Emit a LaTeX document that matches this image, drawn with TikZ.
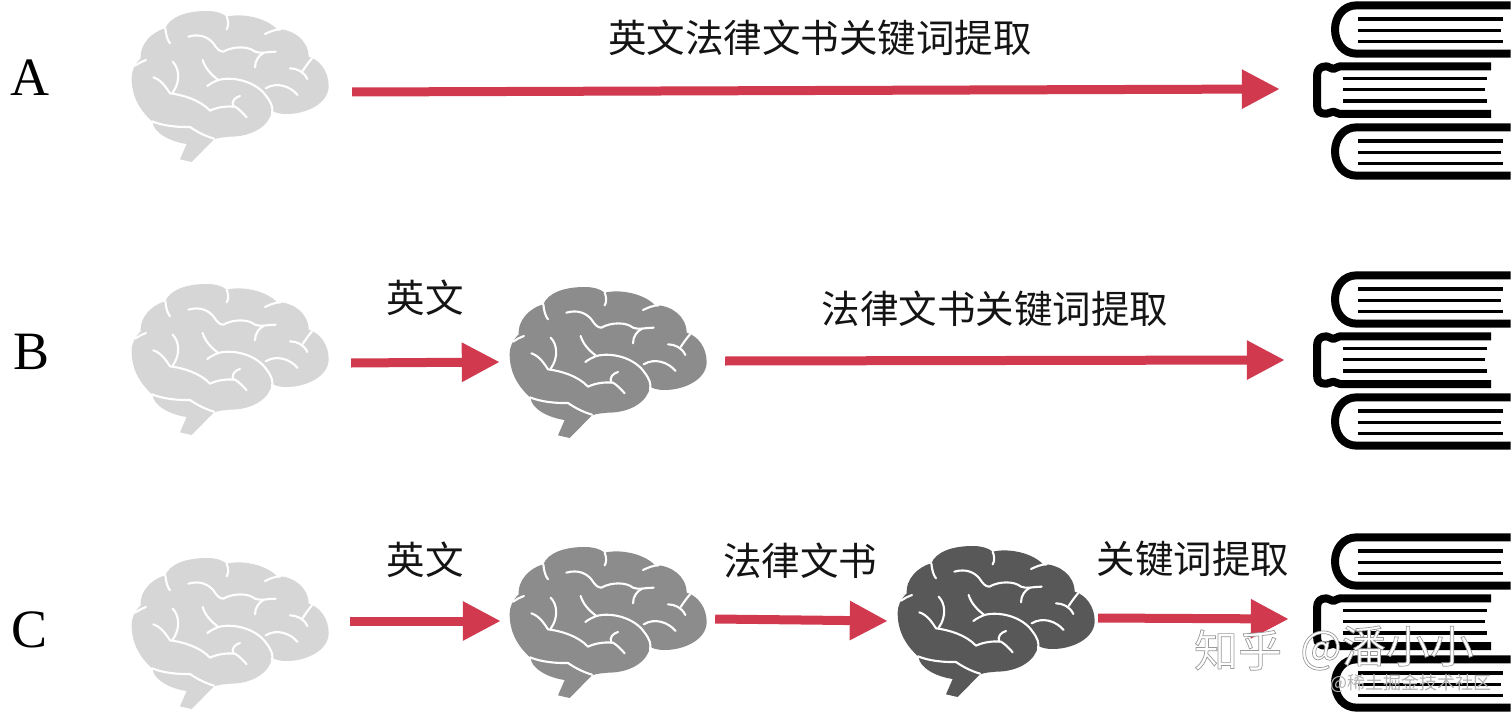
\documentclass[tikz,border=0pt]{standalone}
\usepackage{fontspec}
\setmainfont{Liberation Serif}
\newfontfamily\cjk{Noto Sans CJK SC}
\usetikzlibrary{arrows.meta}
\definecolor{brainlight}{HTML}{D6D6D6}
\definecolor{brainmid}{HTML}{8C8C8C}
\definecolor{braindark}{HTML}{585858}
\definecolor{arrowred}{HTML}{D0394E}
\tikzset{
  redarrow/.style={draw=arrowred,line width=9pt,-{Triangle[length=38pt,width=37pt,color=arrowred]}},
  rowlabel/.style={font=\fontsize{54}{54}\selectfont,inner sep=0pt},
  cnlabel/.style={font=\cjk\fontsize{38.5}{38.5}\selectfont,inner sep=0pt,text=black!92},
  boxanchor/.style={minimum width=200pt,minimum height=155pt,inner sep=0pt,draw=none},
  bookanchor/.style={minimum width=182pt,minimum height=180pt,inner sep=0pt,draw=none},
  sulcus/.style={draw=white,line width=2.1pt,line cap=round,line join=round},
  cover/.style={draw=black,line width=8pt,line join=round},
  leaf/.style={draw=black,line width=3.3pt},
  pics/brain/.style={code={
    \begin{scope}[scale=1/3]
    \fill[#1] (35,235) .. controls (35,210) and (45,192) .. (62,175)
      .. controls (58,135) and (95,95) .. (136,85)
      .. controls (150,50) and (200,33) .. (260,33)
      .. controls (285,33) and (305,38) .. (320,50)
      .. controls (370,38) and (440,55) .. (470,87)
      .. controls (520,88) and (565,120) .. (566,170)
      .. controls (600,180) and (626,215) .. (626,258)
      .. controls (626,310) and (560,342) .. (500,342)
      .. controls (480,342) and (465,338) .. (456,332)
      .. controls (450,375) and (400,410) .. (330,410)
      .. controls (315,412) and (298,412) .. (282,418)
      -- (215,486) -- (180,478) -- (200,432)
      .. controls (150,425) and (100,398) .. (98,366)
      .. controls (70,340) and (35,300) .. (35,235) -- cycle;
    \draw[sulcus] (136,85) .. controls (138,105) and (142,120) .. (150,130);
    \draw[sulcus] (320,50) .. controls (326,65) and (326,78) .. (320,88);
    \draw[sulcus] (435,102) .. controls (450,95) and (465,88) .. (482,88);
    \draw[sulcus] (205,110) .. controls (240,100) and (265,112) .. (280,130)
      .. controls (290,145) and (298,155) .. (310,155)
      .. controls (340,138) and (385,138) .. (405,155)
      .. controls (420,162) and (445,155) .. (467,155);
    \draw[sulcus] (405,202) .. controls (405,180) and (418,165) .. (432,158);
    \draw[sulcus] (45,197) .. controls (55,190) and (65,185) .. (78,180);
    \draw[sulcus] (158,185) .. controls (178,205) and (182,245) .. (158,278);
    \draw[sulcus] (100,232) .. controls (125,240) and (140,265) .. (150,280)
      .. controls (190,285) and (240,300) .. (270,332)
      .. controls (295,320) and (325,318) .. (345,320)
      .. controls (358,328) and (370,340) .. (380,352);
    \draw[sulcus] (360,288) .. controls (345,292) and (333,305) .. (340,320);
    \draw[sulcus] (248,180) .. controls (255,205) and (275,225) .. (295,240)
      .. controls (340,228) and (410,245) .. (440,290)
      .. controls (455,310) and (460,325) .. (456,340);
    \draw[sulcus] (262,258) .. controls (272,250) and (285,244) .. (295,240);
    \draw[sulcus] (437,265) .. controls (470,245) and (510,258) .. (533,285);
    \draw[sulcus] (510,205) .. controls (530,205) and (552,215) .. (562,237);
    \draw[sulcus] (576,175) .. controls (565,188) and (555,202) .. (548,213);
    \draw[sulcus] (96,364) .. controls (130,378) and (175,382) .. (210,381)
      .. controls (230,395) and (255,408) .. (282,416);
    \end{scope}
  }},
  pics/books/.style={code={
    \begin{scope}[scale=1/3]
    \draw[cover] (632,16) -- (170,16) .. controls (130,16) and (105,50) .. (105,88)
      .. controls (105,128) and (130,161) .. (170,161) -- (632,161);
    \draw[leaf] (175,57) -- (610,57);
    \draw[leaf] (175,91) -- (603,91);
    \draw[leaf] (175,125) -- (610,125);
    \draw[cover] (573,199) -- (120,199) .. controls (112,199) and (110,205) .. (100,207)
      .. controls (92,207) and (88,199) .. (80,199)
      .. controls (60,199) and (51,208) .. (51,228) -- (51,315)
      .. controls (51,335) and (60,342) .. (80,341)
      .. controls (88,341) and (92,335) .. (100,335)
      .. controls (110,336) and (112,342) .. (120,342) -- (573,342);
    \draw[leaf] (130,236) -- (562,236);
    \draw[leaf] (130,269) -- (555,269);
    \draw[leaf] (130,303) -- (562,303);
    \draw[cover] (632,382) -- (170,382) .. controls (130,382) and (105,416) .. (105,454)
      .. controls (105,494) and (130,527) .. (170,527) -- (632,527);
    \draw[leaf] (175,423) -- (610,423);
    \draw[leaf] (175,457) -- (603,457);
    \draw[leaf] (175,491) -- (610,491);
    \end{scope}
  }}
}
\begin{document}
\begin{tikzpicture}[x=1pt,y=-1pt]
\useasboundingbox (0,0) rectangle (1512,714);
\fill[white] (0,0) rectangle (1512,714);

% brains
\pic at (120,0) {brain=brainlight};
\pic at (120,273) {brain=brainlight};
\pic at (120,547) {brain=brainlight};
\pic at (498,276) {brain=brainmid};
\pic at (498,536) {brain=brainmid};
\pic at (886,535) {brain=braindark};
\node[boxanchor] (brainA) at (230,87) {};
\node[boxanchor] (brainB) at (230,360) {};
\node[boxanchor] (brainC) at (230,634) {};
\node[boxanchor] (brainBm) at (608,363) {};
\node[boxanchor] (brainCm) at (608,623) {};
\node[boxanchor] (brainCd) at (995,622) {};

% books
\pic at (1300,0) {books};
\pic at (1300,270) {books};
\pic at (1300,532) {books};
\node[bookanchor] (booksA) at (1421,90) {};
\node[bookanchor] (booksB) at (1421,360) {};
\node[bookanchor] (booksC) at (1421,622) {};

% row letters
\node[rowlabel] (labA) at (30,78) {A};
\node[rowlabel] (labB) at (31.5,352) {B};
\node[rowlabel] (labC) at (30,630) {C};

% arrows
\draw[redarrow] ([shift={(22,5)}]brainA.east) -- ([shift={(-50,-1)}]booksA.west);
\draw[redarrow] ([shift={(21,3)}]brainB.east) -- ([shift={(-8,-1)}]brainBm.west);
\draw[redarrow] ([shift={(17,-2)}]brainBm.east) -- ([shift={(-45,0)}]booksB.west);
\draw[redarrow] ([shift={(20,-13)}]brainC.east) -- ([shift={(-7,-2)}]brainCm.west);
\draw[redarrow] ([shift={(7,-4)}]brainCm.east) -- ([shift={(-7,-1)}]brainCd.west);
\draw[redarrow] ([shift={(3,-4)}]brainCd.east) -- ([shift={(-41,-3)}]booksC.west);

% labels
\node[cnlabel] (t1) at (820,38) {英文法律文书关键词提取};
\node[cnlabel] (t2) at (425,298) {英文};
\node[cnlabel] (t3) at (995,309) {法律文书关键词提取};
\node[cnlabel] (t4) at (425,560) {英文};
\node[cnlabel] (t5) at (800,561) {法律文书};
\node[cnlabel] (t6) at (1193,559) {关键词提取};

% watermark
\node[inner sep=0pt,font=\cjk\fontsize{44}{44}\selectfont,text=white] (wm1) at (1238,650)
  {\special{pdf:code 2 Tr 0.7 w 0.6 G}知乎\special{pdf:code 0 Tr}};
\node[inner sep=0pt,font=\cjk\fontsize{44}{44}\selectfont,text=white,anchor=west] (wm2) at (1300,648)
  {\special{pdf:code 2 Tr 0.7 w 0.6 G}@潘小小\special{pdf:code 0 Tr}};
\node[inner sep=0pt,font=\cjk\fontsize{18}{18}\selectfont,text=black!30,anchor=east] (wm3) at (1492,683) {@稀土掘金技术社区};
\end{tikzpicture}
\end{document}
